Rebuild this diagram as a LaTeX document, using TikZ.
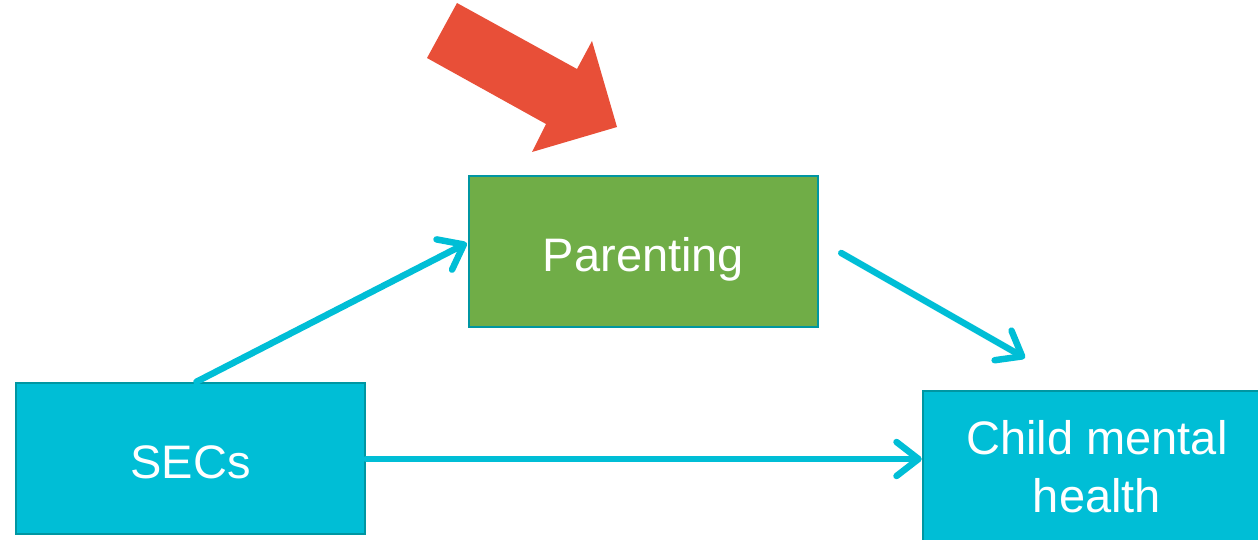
\documentclass[tikz,border=0pt]{standalone}
\usepackage{fontspec}
\setmainfont{Liberation Sans}
\usetikzlibrary{arrows.meta,calc}
\definecolor{cyanfill}{RGB}{0,190,214}
\definecolor{tealborder}{RGB}{0,150,162}
\definecolor{greenfill}{RGB}{112,173,71}
\definecolor{redarrow}{RGB}{232,79,56}
\tikzset{
  box/.style={draw=tealborder, line width=2.5pt, text=white, align=center,
    font=\fontsize{47}{58}\selectfont, inner sep=0pt},
  oneline/.style={text height=49pt, text depth=10pt},
  link/.style={draw=cyanfill, line width=6.5pt, line cap=round,
    -{Straight Barb[length=22pt,width=34pt,round]}},
}
\begin{document}
\begin{tikzpicture}[x=1pt,y=-1pt]
\useasboundingbox (0,0) rectangle (1258,540);
\begin{scope}
\clip (0,0) rectangle (1258,540);
\node[box, oneline, fill=cyanfill, minimum width=349pt, minimum height=151pt] (secs) at (190.5,458.5) {SECs};
\node[box, oneline, fill=greenfill, minimum width=349pt, minimum height=151pt] (par) at (643.5,251.5) {Parenting};
\node[box, fill=cyanfill, minimum width=348pt, minimum height=152pt] (child) at (1097,467) {Child mental\\health};
\end{scope}
\coordinate (p2s) at ($(par.east)+(22,1.5)$);
\coordinate (p2e) at (1025,358);
\draw[link] ($(secs.north)+(6,0)$) -- ($(par.west)+(-1,-8.5)$);
\draw[link] (p2s) -- (p2e);
\draw[link] (secs.east |- 0,459) -- (child.west |- 0,459);
\fill[redarrow] (457,3) -- (577,69) -- (592,41) -- (617,127) -- (532,152) -- (546,124) -- (427,58) -- cycle;
\end{tikzpicture}
\end{document}
